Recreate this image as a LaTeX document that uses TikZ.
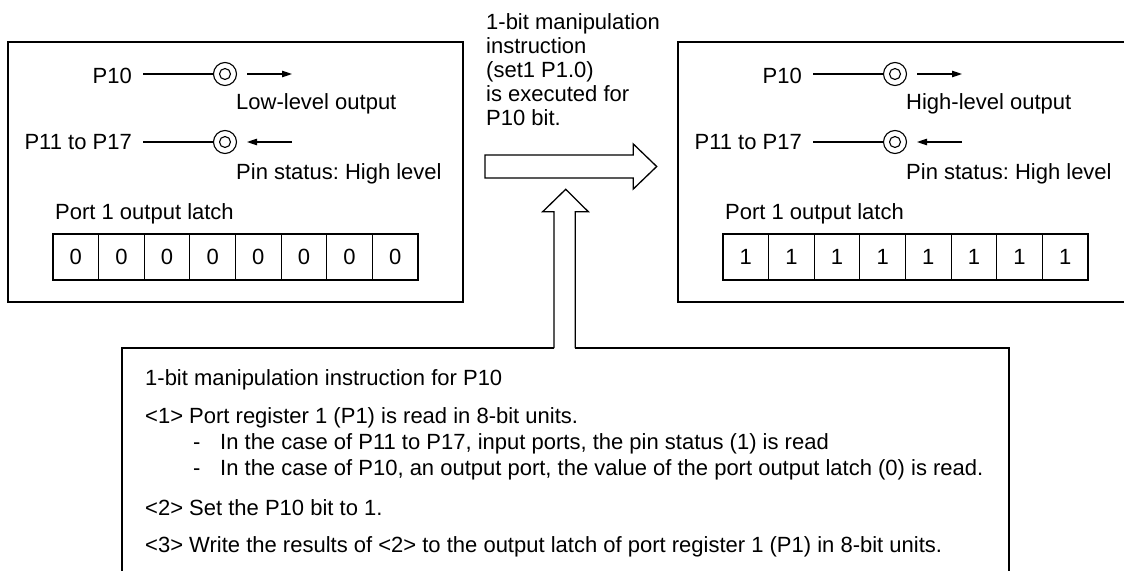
\documentclass[tikz,border=0pt]{standalone}
\usepackage{fontspec}
\setmainfont{Liberation Sans}
\usetikzlibrary{arrows.meta}
\newcommand\pinpanel[3]{%
  \draw[frame] (8,42) rectangle (#3,302);
  \node[txt, anchor=base east] (#1p10) at (132,83.3) {P10};
  \node[txt, anchor=base east] (#1p11) at (132,150) {P11 to P17};
  \node[pin] (#1c1) at (225,74) {};
  \node[pin] (#1c2) at (225,142) {};
  \draw[thin1] (#1c1.center) circle (5.5bp);
  \draw[thin1] (#1c2.center) circle (5.5bp);
  \coordinate (#1w1) at (143,74);
  \coordinate (#1w2) at (143,142);
  \draw[thin1] (#1w1) -- (#1c1.west);
  \draw[thin1] (#1w2) -- (#1c2.west);
  \coordinate (#1a1s) at (247,74);
  \coordinate (#1a1e) at (292,74);
  \coordinate (#1a2s) at (292,142);
  \coordinate (#1a2e) at (247,142);
  \draw[smallarrow] (#1a1s) -- (#1a1e);
  \draw[smallarrow] (#1a2s) -- (#1a2e);
  \node[txt, anchor=base west] (#1lvl) at (236,110) {#2-level output};
  \node[txt, anchor=base west] (#1pin) at (236,180) {Pin status: High level};
  \node[txt, anchor=base west] (#1latch) at (55,219.3) {Port 1 output latch};
}
\begin{document}
\frenchspacing
\begin{tikzpicture}[x=1bp,y=-1bp,
  txt/.style={inner sep=0pt, font=\fontsize{22bp}{24bp}\selectfont},
  frame/.style={draw, line width=2bp},
  thin1/.style={line width=1.1bp},
  pin/.style={draw, circle, line width=1.1bp, minimum size=23bp, inner sep=0pt},
  smallarrow/.style={line width=1.1bp, -{Triangle[length=10bp,width=6.5bp]}},
  cell/.style={draw, line width=1.1bp, minimum width=45.625bp, minimum height=46bp, inner sep=0pt, font=\fontsize{22bp}{24bp}\selectfont},
  bigarrow/.style={draw, line width=1.3bp, fill=white, line join=miter},
  boxline/.style={line width=1.5bp}]
\useasboundingbox (0,0) rectangle (1124,571);
\clip (0,0) rectangle (1124,571);
\fill[white] (0,0) rectangle (1124,571);

% left panel
\pinpanel{L}{Low}{463}
\foreach \i in {0,...,7} \node[cell] (Lcell\i) at ({75.8125+45.625*\i},257) {0};
\draw[line width=2bp] (53,234) rectangle (418,280);

% right panel
\begin{scope}[shift={(670,0)}]
\pinpanel{R}{High}{470}
\foreach \i in {0,...,7} \node[cell] (Rcell\i) at ({75.8125+45.625*\i},257) {1};
\draw[line width=2bp] (53,234) rectangle (418,280);
\end{scope}

% instruction text
\node[txt, anchor=base west] (t1) at (486,29.3) {1-bit manipulation};
\node[txt, anchor=base west] (t2) at (486,53.5) {instruction};
\node[txt, anchor=base west] (t3) at (486,77.7) {(set1 P1.0)};
\node[txt, anchor=base west] (t4) at (486,101.9) {is executed for};
\node[txt, anchor=base west] (t5) at (486,126) {P10 bit.};

% right big arrow
\draw[bigarrow] (485,155) -- (633.3,155) -- (633.3,144) -- (656.7,166.5) -- (633.3,189) -- (633.3,178) -- (485,178) -- cycle;

% up arrow joined to bottom box
\draw[bigarrow] (554,348) -- (554,211.7) -- (542.7,211.7) -- (565.7,189.3) -- (588.3,211.7) -- (575.3,211.7) -- (575.3,348);
\draw[boxline] (554,348) -- (122,348) -- (122,590);
\draw[boxline] (575.3,348) -- (1009,348) -- (1009,590);

% bottom text
\node[txt, anchor=base west] (b1) at (145,385.5) {1-bit manipulation instruction for P10};
\node[txt, anchor=base west] (b2) at (145,423) {<1> Port register 1 (P1) is read in 8-bit units.};
\node[txt, anchor=base west] (b3d) at (193,449) {-};
\node[txt, anchor=base west] (b3) at (220,449) {In the case of P11 to P17, input ports, the pin status (1) is read};
\node[txt, anchor=base west] (b4d) at (193,475) {-};
\node[txt, anchor=base west] (b4) at (220,475) {In the case of P10, an output port, the value of the port output latch (0) is read.};
\node[txt, anchor=base west] (b5) at (145,515) {<2> Set the P10 bit to 1.};
\node[txt, anchor=base west] (b6) at (145,552.5) {<3> Write the results of <2> to the output latch of port register 1 (P1) in 8-bit units.};
\end{tikzpicture}
\end{document}
